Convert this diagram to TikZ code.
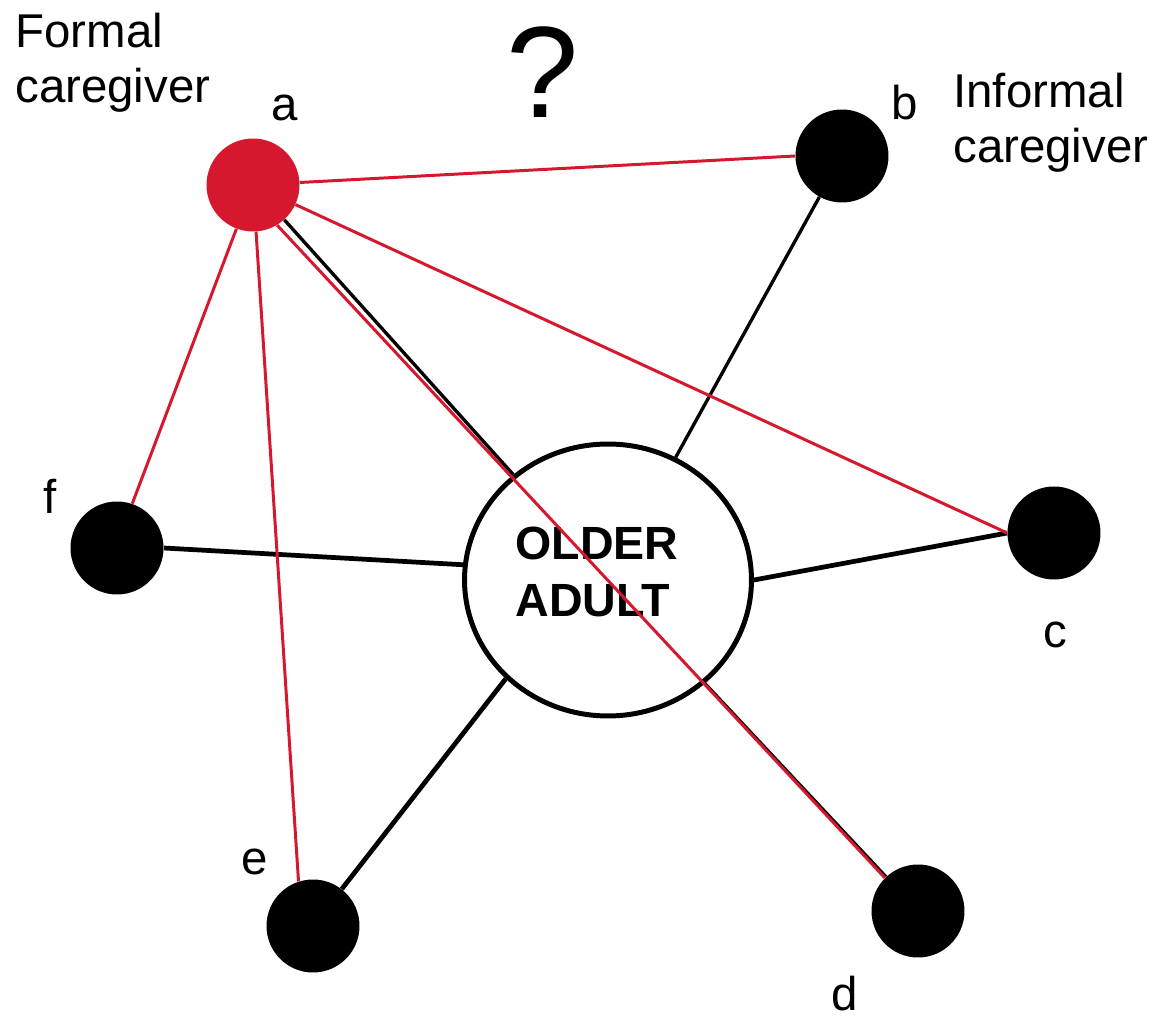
\documentclass[tikz,border=0pt]{standalone}
\usepackage{fontspec}
\setmainfont{Liberation Sans}
\usetikzlibrary{shapes.geometric}
\definecolor{formalred}{RGB}{214,24,46}

\begin{document}
\begin{tikzpicture}[x=0.02cm, y=-0.02cm,
    person/.style={circle, fill=black, inner sep=0pt, minimum size=1.86cm},
    blacklink/.style={draw=black, line width=1.9pt},
    thicklink/.style={draw=black, line width=2.7pt},
    redlink/.style={draw=formalred, line width=1.7pt},
    lbl/.style={inner sep=0pt, font=\fontsize{27}{31}\selectfont}]
    \useasboundingbox[fill=white] (0,0) rectangle (1164,1016);

    \node[ellipse, draw, fill=white, line width=2.83pt, minimum width=5.74cm,
          minimum height=5.44cm] (old) at (608,580) {};
    \node[inner sep=0pt, align=left, font=\fontsize{26.5}{32.5}\selectfont\bfseries]
          (oldtxt) at (597,572) {OLDER\\ADULT};

    \node[person, fill=formalred] (a) at (253,185) {};
    \node[person] (b) at (842,156) {};
    \node[person] (c) at (1054,533) {};
    \node[person] (d) at (918,911) {};
    \node[person] (e) at (313,926) {};
    \node[person] (f) at (117,548) {};

    \node[lbl] (la) at (285,108) {a};
    \node[lbl] (lb) at (905,103) {b};
    \node[lbl] (lc) at (1055,635) {c};
    \node[lbl] (ld) at (845,994) {d};
    \node[lbl] (le) at (255,862) {e};
    \node[lbl] (lf) at (50,496) {f};
    \node[lbl, anchor=north west, align=left] (formal) at (15,13) {Formal\\caregiver};
    \node[lbl, anchor=north west, align=left] (informal) at (953,73) {Informal\\caregiver};
    \node[inner sep=0pt, font=\fontsize{74}{80}\selectfont] (qm) at (543,72) {?};

    % ties to the older adult
    \draw[blacklink] (a) -- (old);
    \draw[blacklink] (b) -- (old);
    \draw[thicklink] (c.west) -- (old.east);
    \draw[blacklink] (d) -- (old);
    \draw[thicklink] (e) -- (old.-136);
    \draw[thicklink] (f.east) -- (old.174);

    % ties of the formal caregiver
    \draw[redlink] (a) -- (b.west);
    \draw[redlink] (a) -- (c.west);
    \draw[redlink] (a.-59) -- (d.135);
    \draw[redlink] (a) -- (e.108);
    \draw[redlink] (a) -- (f.71);
\end{tikzpicture}
\end{document}
